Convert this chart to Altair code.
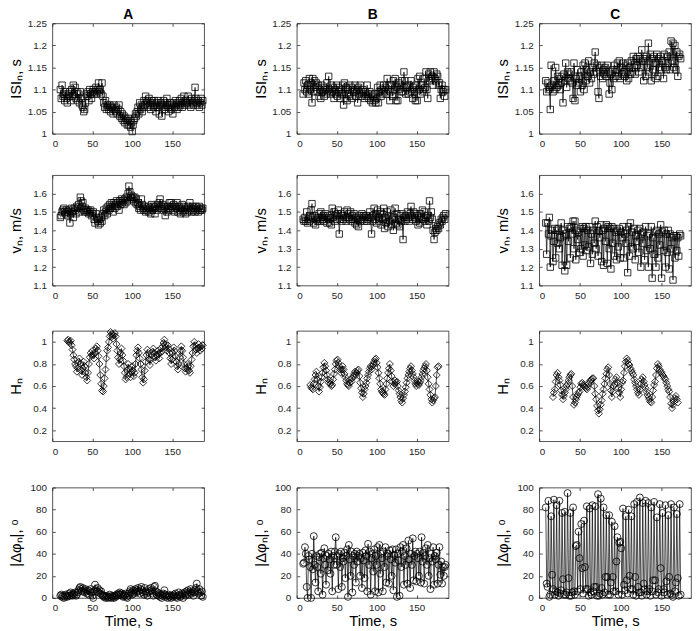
import altair as alt
import pandas as pd
import numpy as np

# ---------------- data ----------------
# Column A
A_t0 = 10.0
A_isi = [1.100, 1.080, 1.110, 1.085, 1.090, 1.075, 1.095, 1.080, 1.070, 1.090,
         1.085, 1.095, 1.075, 1.100, 1.085, 1.110, 1.090, 1.105, 1.080, 1.095,
         1.075, 1.090, 1.070, 1.095, 1.080, 1.065, 1.060, 1.050, 1.055, 1.070,
         1.090, 1.085, 1.095, 1.075, 1.100, 1.090, 1.080, 1.095, 1.100, 1.090,
         1.095, 1.105, 1.090, 1.100, 1.115, 1.095, 1.100, 1.090, 1.115, 1.085,
         1.070, 1.060, 1.075, 1.055, 1.065, 1.060, 1.055, 1.065, 1.050, 1.060,
         1.060, 1.045, 1.065, 1.055, 1.050, 1.060, 1.045, 1.055, 1.065, 1.040,
         1.050, 1.035, 1.045, 1.030, 1.040, 1.025, 1.035, 1.030, 1.020, 1.035,
         1.020, 1.030, 1.015, 1.025, 1.005, 1.020, 1.030, 1.035, 1.045, 1.040,
         1.050, 1.060, 1.045, 1.070, 1.055, 1.065, 1.050, 1.060, 1.075, 1.065,
         1.085, 1.070, 1.075, 1.060, 1.080, 1.065, 1.055, 1.075, 1.070, 1.060,
         1.075, 1.065, 1.050, 1.070, 1.060, 1.075, 1.045, 1.065, 1.070, 1.040,
         1.065, 1.075, 1.055, 1.070, 1.060, 1.080, 1.065, 1.050, 1.060, 1.070,
         1.055, 1.065, 1.045, 1.070, 1.060, 1.075, 1.065, 1.055, 1.070, 1.060,
         1.075, 1.065, 1.080, 1.060, 1.070, 1.085, 1.065, 1.075, 1.070, 1.070,
         1.085, 1.065, 1.075, 1.060, 1.080, 1.070, 1.065, 1.075, 1.105, 1.080,
         1.070, 1.065, 1.075, 1.060, 1.070, 1.080, 1.065, 1.075]
A_v = [1.47, 1.48, 1.50, 1.51, 1.52, 1.50, 1.49, 1.51, 1.50, 1.48,
       1.51, 1.44, 1.49, 1.52, 1.50, 1.47, 1.52, 1.51, 1.49, 1.53,
       1.52, 1.54, 1.50, 1.58, 1.56, 1.53, 1.55, 1.51, 1.50, 1.52,
       1.51, 1.50, 1.51, 1.49, 1.50, 1.51, 1.48, 1.49, 1.50, 1.46,
       1.44, 1.49, 1.47, 1.45, 1.43, 1.46, 1.44, 1.47, 1.45, 1.49,
       1.51, 1.48, 1.50, 1.52, 1.49, 1.53, 1.51, 1.54, 1.52, 1.55,
       1.53, 1.50, 1.55, 1.52, 1.54, 1.56, 1.53, 1.55, 1.51, 1.56,
       1.54, 1.57, 1.55, 1.56, 1.54, 1.57, 1.55, 1.58, 1.56, 1.60,
       1.64, 1.61, 1.58, 1.59, 1.57, 1.58, 1.56, 1.58, 1.55, 1.57,
       1.54, 1.55, 1.52, 1.53, 1.51, 1.57, 1.54, 1.52, 1.51, 1.53,
       1.50, 1.52, 1.51, 1.53, 1.50, 1.52, 1.49, 1.54, 1.51, 1.53,
       1.52, 1.49, 1.53, 1.51, 1.54, 1.52, 1.55, 1.57, 1.53, 1.52,
       1.54, 1.51, 1.53, 1.48, 1.52, 1.50, 1.53, 1.51, 1.55, 1.52,
       1.55, 1.53, 1.51, 1.54, 1.50, 1.53, 1.52, 1.55, 1.50, 1.53,
       1.51, 1.49, 1.52, 1.54, 1.50, 1.53, 1.51, 1.49, 1.52, 1.50,
       1.53, 1.51, 1.55, 1.52, 1.50, 1.53, 1.51, 1.52, 1.50, 1.53,
       1.51, 1.52, 1.50, 1.53, 1.51, 1.52, 1.51, 1.52]
A_h_start = 8
A_h = [1.01, 1.02, 1.00, 0.99, 1.01, 0.97, 0.93, 0.88, 0.84, 0.80,
       0.78, 0.73, 0.76, 0.82, 0.85, 0.80, 0.74, 0.70, 0.76, 0.82,
       0.78, 0.72, 0.68, 0.65, 0.72, 0.80, 0.86, 0.90, 0.88, 0.92,
       0.88, 0.85, 0.90, 0.94, 0.96, 0.92, 0.87, 0.80, 0.70, 0.62,
       0.56, 0.55, 0.60, 0.67, 0.75, 0.85, 0.92, 0.95, 1.00, 1.05,
       1.09, 1.07, 1.05, 1.03, 1.06, 1.08, 1.05, 0.98, 0.92, 0.86,
       0.80, 0.84, 0.90, 0.94, 0.88, 0.83, 0.78, 0.72, 0.66, 0.68,
       0.74, 0.80, 0.76, 0.71, 0.68, 0.73, 0.78, 0.74, 0.69, 0.72,
       0.80, 0.88, 0.92, 0.95, 0.90, 0.85, 0.80, 0.75, 0.68, 0.63,
       0.66, 0.74, 0.82, 0.88, 0.93, 0.90, 0.84, 0.79, 0.84, 0.88,
       0.91, 0.94, 0.90, 0.86, 0.83, 0.88, 0.92, 0.89, 0.85, 0.90,
       0.94, 0.91, 0.96, 0.99, 1.02, 0.98, 0.95, 0.92, 0.97, 0.94,
       0.90, 0.85, 0.80, 0.84, 0.90, 0.95, 0.92, 0.87, 0.82, 0.78,
       0.75, 0.80, 0.86, 0.92, 0.96, 0.92, 0.86, 0.80, 0.76, 0.73,
       0.76, 0.80, 0.78, 0.74, 0.72, 0.78, 0.84, 0.90, 0.96, 1.00,
       0.97, 0.93, 0.90, 0.94, 0.98, 0.95, 0.92, 0.96, 0.94, 0.97]
A_phi = [2, 3, 1, 2, 0, 1, 3, 2, 1, 2,
         4, 2, 5, 3, 2, 4, 3, 5, 2, 3,
         5, 7, 9, 10, 8, 6, 9, 7, 5, 8,
         6, 4, 7, 3, 6, 8, 5, 2, 0, 6,
         12, 8, 6, 9, 5, 7, 4, 6, 3, 2,
         1, 2, 0, 1, 2, 0, 1, 3, 1, 0,
         2, 1, 0, 2, 1, 3, 2, 4, 3, 5,
         3, 4, 2, 1, 3, 2, 4, 1, 0, 2,
         4, 6, 8, 5, 3, 7, 4, 6, 8, 5,
         7, 9, 6, 4, 8, 10, 7, 5, 3, 9,
         6, 4, 2, 5, 8, 6, 9, 7, 4, 2,
         10, 11, 6, 3, 5, 2, 4, 1, 3, 0,
         2, 4, 7, 3, 1, 2, 0, 3, 1, 2,
         0, 2, 1, 3, 2, 4, 1, 0, 2, 5,
         3, 1, 2, 4, 0, 3, 5, 2, 6, 4,
         7, 3, 5, 8, 4, 6, 2, 5, 7, 9,
         13, 6, 4, 8, 5, 2, 6, 1]

# Column B
B_t0 = 8.0
B_isi = [1.090, 1.115, 1.100, 1.120, 1.095, 1.110, 1.090, 1.125, 1.100, 1.115,
         1.070, 1.125, 1.095, 1.120, 1.105, 1.115, 1.095, 1.110, 1.085, 1.100,
         1.080, 1.110, 1.095, 1.105, 1.085, 1.100, 1.090, 1.115, 1.095, 1.130,
         1.100, 1.090, 1.110, 1.095, 1.105, 1.080, 1.100, 1.090, 1.110, 1.085,
         1.105, 1.095, 1.080, 1.100, 1.090, 1.110, 1.065, 1.115, 1.080, 1.105,
         1.075, 1.100, 1.090, 1.110, 1.085, 1.105, 1.080, 1.100, 1.095, 1.110,
         1.085, 1.100, 1.070, 1.105, 1.090, 1.110, 1.095, 1.085, 1.100, 1.090,
         1.080, 1.095, 1.085, 1.110, 1.090, 1.080, 1.095, 1.075, 1.090, 1.070,
         1.085, 1.075, 1.090, 1.070, 1.080, 1.105, 1.070, 1.095, 1.110, 1.085,
         1.100, 1.090, 1.110, 1.095, 1.105, 1.090, 1.125, 1.100, 1.110, 1.075,
         1.095, 1.110, 1.085, 1.120, 1.100, 1.125, 1.075, 1.105, 1.075, 1.115,
         1.100, 1.110, 1.095, 1.120, 1.095, 1.140, 1.120, 1.090, 1.105, 1.110,
         1.090, 1.110, 1.095, 1.120, 1.100, 1.080, 1.105, 1.095, 1.075, 1.110,
         1.075, 1.125, 1.100, 1.130, 1.090, 1.110, 1.095, 1.100, 1.125, 1.105,
         1.140, 1.100, 1.080, 1.135, 1.120, 1.140, 1.125, 1.130, 1.110, 1.140,
         1.125, 1.120, 1.135, 1.130, 1.110, 1.115, 1.080, 1.100, 1.110, 1.095,
         1.100, 1.085, 1.100]
B_v = [1.46, 1.45, 1.47, 1.45, 1.50, 1.44, 1.46, 1.45, 1.48, 1.51,
       1.545, 1.47, 1.44, 1.48, 1.43, 1.46, 1.45, 1.47, 1.49, 1.45,
       1.50, 1.47, 1.46, 1.48, 1.45, 1.49, 1.47, 1.44, 1.48, 1.46,
       1.44, 1.47, 1.43, 1.52, 1.47, 1.50, 1.45, 1.48, 1.46, 1.49,
       1.51, 1.38, 1.46, 1.49, 1.45, 1.48, 1.46, 1.50, 1.47, 1.45,
       1.51, 1.47, 1.49, 1.46, 1.50, 1.45, 1.48, 1.46, 1.49, 1.44,
       1.47, 1.43, 1.46, 1.42, 1.48, 1.45, 1.47, 1.49, 1.46, 1.48,
       1.45, 1.47, 1.48, 1.45, 1.46, 1.47, 1.50, 1.47, 1.38, 1.45,
       1.48, 1.52, 1.46, 1.49, 1.44, 1.51, 1.47, 1.45, 1.50, 1.43,
       1.49, 1.46, 1.52, 1.41, 1.47, 1.44, 1.50, 1.42, 1.48, 1.45,
       1.51, 1.43, 1.46, 1.40, 1.47, 1.52, 1.44, 1.49, 1.43, 1.46,
       1.42, 1.48, 1.45, 1.49, 1.35, 1.47, 1.45, 1.48, 1.46, 1.50,
       1.47, 1.45, 1.49, 1.53, 1.48, 1.46, 1.50, 1.47, 1.49, 1.45,
       1.48, 1.43, 1.46, 1.44, 1.49, 1.47, 1.51, 1.46, 1.50, 1.45,
       1.47, 1.43, 1.48, 1.45, 1.56, 1.47, 1.50, 1.46, 1.40, 1.35,
       1.39, 1.41, 1.40, 1.42, 1.41, 1.44, 1.43, 1.46, 1.45, 1.47,
       1.48, 1.46, 1.49]
B_h_start = 8
B_h = [0.61, 0.59, 0.58, 0.57, 0.62, 0.66, 0.70, 0.73, 0.66, 0.60,
       0.55, 0.59, 0.64, 0.68, 0.72, 0.77, 0.81, 0.78, 0.74, 0.70,
       0.66, 0.63, 0.65, 0.62, 0.60, 0.61, 0.66, 0.71, 0.75, 0.80,
       0.83, 0.84, 0.81, 0.78, 0.75, 0.72, 0.75, 0.78, 0.75, 0.71,
       0.68, 0.65, 0.62, 0.61, 0.60, 0.63, 0.66, 0.64, 0.67, 0.69,
       0.71, 0.73, 0.70, 0.72, 0.74, 0.75, 0.69, 0.63, 0.58, 0.54,
       0.50, 0.53, 0.57, 0.60, 0.63, 0.67, 0.70, 0.73, 0.76, 0.78,
       0.75, 0.78, 0.80, 0.82, 0.84, 0.85, 0.81, 0.77, 0.72, 0.67,
       0.62, 0.57, 0.55, 0.54, 0.53, 0.52, 0.57, 0.62, 0.67, 0.72,
       0.76, 0.80, 0.74, 0.69, 0.64, 0.60, 0.62, 0.65, 0.63, 0.64,
       0.60, 0.56, 0.53, 0.50, 0.47, 0.45, 0.49, 0.52, 0.55, 0.59,
       0.63, 0.67, 0.70, 0.73, 0.76, 0.78, 0.74, 0.71, 0.68, 0.65,
       0.62, 0.60, 0.62, 0.64, 0.61, 0.63, 0.65, 0.68, 0.71, 0.74,
       0.76, 0.78, 0.80, 0.74, 0.68, 0.62, 0.57, 0.52, 0.48, 0.45,
       0.47, 0.49, 0.50, 0.60, 0.70, 0.77, 0.78]
B_phi = [31, 32, 46, 40, 10, 0, 38, 35, 28, 0,
         40, 26, 56, 30, 14, 38, 28, 6, 37, 40,
         22, 41, 3, 36, 45, 30, 12, 38, 25, 40,
         35, 22, 42, 6, 38, 30, 42, 55, 30, 38,
         8, 40, 28, 42, 10, 36, 33, 41, 18, 38,
         44, 1, 48, 35, 20, 42, 5, 38, 30, 40,
         14, 42, 33, 38, 40, 20, 36, 9, 41, 34,
         18, 43, 38, 6, 49, 30, 42, 3, 36, 40,
         24, 44, 6, 38, 30, 46, 5, 48, 22, 40,
         36, 6, 42, 28, 46, 14, 38, 40, 13, 43,
         35, 20, 44, 7, 39, 32, 44, 1, 40, 34,
         2, 46, 28, 42, 48, 12, 38, 30, 45, 13,
         52, 35, 9, 40, 30, 54, 16, 38, 42, 15,
         40, 36, 20, 42, 14, 55, 33, 41, 13, 38,
         45, 30, 48, 20, 36, 8, 40, 33, 46, 12,
         38, 35, 41, 13, 30, 46, 21, 33, 13, 28,
         20, 28, 30]

# Column C
C_t0 = 8.0
C_isi = [1.120, 1.095, 1.115, 1.100, 1.105, 1.055, 1.155, 1.110, 1.095, 1.120,
         1.100, 1.150, 1.105, 1.130, 1.110, 1.125, 1.100, 1.115, 1.130, 1.070,
         1.135, 1.120, 1.160, 1.105, 1.140, 1.125, 1.135, 1.120, 1.140, 1.115,
         1.080, 1.160, 1.075, 1.125, 1.110, 1.145, 1.115, 1.130, 1.095, 1.140,
         1.110, 1.155, 1.100, 1.160, 1.120, 1.145, 1.130, 1.165, 1.115, 1.140,
         1.125, 1.150, 1.135, 1.160, 1.185, 1.140, 1.155, 1.095, 1.080, 1.150,
         1.130, 1.155, 1.125, 1.145, 1.135, 1.150, 1.130, 1.155, 1.140, 1.090,
         1.115, 1.135, 1.100, 1.145, 1.125, 1.155, 1.130, 1.145, 1.160, 1.130,
         1.165, 1.125, 1.150, 1.135, 1.160, 1.140, 1.130, 1.155, 1.120, 1.160,
         1.125, 1.150, 1.135, 1.165, 1.140, 1.175, 1.150, 1.135, 1.170, 1.155,
         1.175, 1.140, 1.170, 1.150, 1.190, 1.165, 1.120, 1.170, 1.130, 1.175,
         1.150, 1.205, 1.140, 1.180, 1.120, 1.170, 1.145, 1.175, 1.160, 1.125,
         1.180, 1.130, 1.170, 1.150, 1.175, 1.145, 1.165, 1.125, 1.180, 1.150,
         1.145, 1.175, 1.160, 1.185, 1.145, 1.210, 1.165, 1.205, 1.150, 1.200,
         1.145, 1.185, 1.130, 1.175, 1.180, 1.170]
C_v = [1.44, 1.27, 1.44, 1.38, 1.47, 1.20, 1.37, 1.40, 1.23, 1.34,
       1.41, 1.25, 1.40, 1.33, 1.41, 1.30, 1.36, 1.44, 1.21, 1.40,
       1.37, 1.18, 1.38, 1.21, 1.42, 1.34, 1.41, 1.25, 1.42, 1.38,
       1.45, 1.30, 1.45, 1.24, 1.40, 1.35, 1.39, 1.28, 1.41, 1.30,
       1.42, 1.26, 1.41, 1.32, 1.42, 1.29, 1.40, 1.31, 1.42, 1.22,
       1.38, 1.27, 1.40, 1.33, 1.45, 1.30, 1.42, 1.26, 1.40, 1.36,
       1.43, 1.23, 1.40, 1.21, 1.41, 1.34, 1.43, 1.22, 1.42, 1.30,
       1.41, 1.19, 1.42, 1.33, 1.41, 1.26, 1.39, 1.24, 1.40, 1.31,
       1.41, 1.25, 1.39, 1.36, 1.42, 1.25, 1.38, 1.33, 1.40, 1.17,
       1.42, 1.26, 1.44, 1.31, 1.39, 1.30, 1.41, 1.24, 1.37, 1.34,
       1.40, 1.28, 1.41, 1.20, 1.38, 1.33, 1.39, 1.24, 1.42, 1.29,
       1.37, 1.20, 1.38, 1.30, 1.42, 1.14, 1.36, 1.27, 1.39, 1.20,
       1.40, 1.25, 1.38, 1.32, 1.43, 1.14, 1.39, 1.29, 1.40, 1.20,
       1.38, 1.28, 1.40, 1.19, 1.38, 1.30, 1.36, 1.13, 1.37, 1.25,
       1.37, 1.29, 1.36, 1.26, 1.38, 1.37]
C_h_start = 8
C_h = [0.50, 0.54, 0.57, 0.64, 0.70, 0.72, 0.68, 0.65, 0.61, 0.56,
       0.52, 0.48, 0.51, 0.54, 0.57, 0.60, 0.62, 0.65, 0.68, 0.70,
       0.71, 0.60, 0.50, 0.43, 0.45, 0.48, 0.50, 0.52, 0.54, 0.55,
       0.59, 0.62, 0.63, 0.61, 0.60, 0.59, 0.58, 0.57, 0.59, 0.62,
       0.64, 0.65, 0.66, 0.67, 0.67, 0.60, 0.53, 0.48, 0.42, 0.38,
       0.35, 0.39, 0.43, 0.47, 0.53, 0.57, 0.62, 0.67, 0.71, 0.75,
       0.77, 0.70, 0.62, 0.56, 0.50, 0.55, 0.60, 0.62, 0.66, 0.68,
       0.63, 0.58, 0.54, 0.50, 0.57, 0.63, 0.65, 0.72, 0.78, 0.82,
       0.85, 0.83, 0.80, 0.79, 0.76, 0.74, 0.72, 0.70, 0.66, 0.63,
       0.60, 0.57, 0.54, 0.52, 0.57, 0.62, 0.66, 0.68, 0.64, 0.61,
       0.58, 0.55, 0.52, 0.50, 0.48, 0.46, 0.45, 0.50, 0.56, 0.61,
       0.64, 0.70, 0.76, 0.80, 0.78, 0.75, 0.73, 0.72, 0.70, 0.69,
       0.67, 0.66, 0.63, 0.60, 0.57, 0.55, 0.50, 0.44, 0.40, 0.43,
       0.46, 0.49, 0.51, 0.48, 0.45]
C_phi = [82, 13, 10, 88, 1, 3, 74, 21, 8, 89,
         3, 6, 84, 5, 2, 88, 4, 7, 77, 17,
         3, 78, 3, 5, 95, 18, 2, 77, 2, 5,
         82, 6, 3, 47, 48, 6, 60, 36, 8, 67,
         27, 4, 70, 28, 8, 83, 8, 2, 81, 5,
         3, 84, 6, 10, 83, 10, 2, 94, 2, 4,
         90, 9, 3, 82, 5, 19, 75, 19, 3, 75,
         3, 14, 69, 19, 6, 65, 6, 33, 55, 3,
         50, 51, 45, 3, 81, 12, 7, 74, 16, 4,
         80, 20, 8, 74, 8, 3, 85, 19, 2, 87,
         10, 5, 91, 5, 2, 86, 13, 8, 88, 3,
         6, 86, 8, 2, 82, 6, 16, 87, 16, 3,
         73, 5, 8, 85, 27, 2, 77, 8, 5, 84,
         15, 3, 75, 19, 4, 85, 3, 1, 82, 6,
         14, 76, 18, 2, 85, 3]

# axis ticks / labels
x_ticks = [0, 50, 100, 150]
isi_ticks = [1, 1.05, 1.1, 1.15, 1.2, 1.25]
v_ticks = [1.1, 1.2, 1.3, 1.4, 1.5, 1.6]
h_ticks = [0.2, 0.4, 0.6, 0.8, 1]
phi_ticks = [0, 20, 40, 60, 80, 100]
col_titles = ["A", "B", "C"]
y_titles = ["ISI\u2099, s", "v\u2099, m/s", "H\u2099", "|\u0394\u03c6\u2099|, \u1d52"]

# ---------------- chart ----------------
FONT = "Liberation Sans"
AXC = "#262626"
W, H = 154, 112


def times(t0, isi):
    return t0 + np.concatenate([[0.0], np.cumsum(isi[:-1])])


def make_axis(orient, vals, title=None, labels=True):
    kw = dict(orient=orient, values=vals, format="~r", grid=False, domain=False,
              tickSize=3, offset=-3, tickColor=AXC, tickWidth=0.8, labels=labels)
    kw["title"] = title
    if orient == "left":
        kw.update(labelPadding=6, minExtent=28, maxExtent=28, titlePadding=4)
    elif orient == "bottom":
        kw.update(labelPadding=5, titlePadding=1)
    else:
        kw.update(minExtent=0, maxExtent=0)
    return alt.Axis(**kw)


def panel(t, y, shape, size, ydom, yvals, ytitle, xmax, col_title=None, xtitle=None):
    n = min(len(t), len(y))
    df = pd.DataFrame({"t": np.asarray(t[:n], dtype=float), "y": np.asarray(y[:n], dtype=float)})
    xs = alt.Scale(domain=[0, xmax], nice=False, zero=False)
    ys = alt.Scale(domain=ydom, nice=False, zero=False)
    base = alt.Chart(df)
    line = base.mark_line(color="black", strokeWidth=0.7).encode(
        x=alt.X("t:Q", scale=xs, axis=make_axis("bottom", x_ticks, xtitle)),
        y=alt.Y("y:Q", scale=ys, axis=make_axis("left", yvals, ytitle)),
    )
    pts = base.mark_point(shape=shape, size=size, filled=False, color="black",
                          strokeWidth=0.8, opacity=1).encode(
        x=alt.X("t:Q", scale=xs, axis=make_axis("top", x_ticks, None, labels=False)),
        y=alt.Y("y:Q", scale=ys, axis=make_axis("right", yvals, None, labels=False)),
    )
    layers = [line, pts]
    if col_title:
        ttl = alt.Chart(pd.DataFrame({"lab": [col_title]})).mark_text(
            font=FONT, fontSize=14, fontWeight="bold", color="black",
            align="center", baseline="alphabetic").encode(
            text="lab:N", x=alt.value(W / 2), y=alt.value(-4))
        layers.append(ttl)
    ch = alt.layer(*layers).resolve_axis(x="independent", y="independent").properties(width=W, height=H)
    return ch


cols = []
for ci, (t0, isi, v, hst, h, phi, xmax) in enumerate([
        (A_t0, A_isi, A_v, A_h_start, A_h, A_phi, 190),
        (B_t0, B_isi, B_v, B_h_start, B_h, B_phi, 190),
        (C_t0, C_isi, C_v, C_h_start, C_h, C_phi, 186)]):
    t = times(t0, isi)
    cols.append([
        panel(t, isi, "square", 42, [1, 1.25], isi_ticks, y_titles[0], xmax, col_title=col_titles[ci]),
        panel(t, v, "square", 42, [1.1, 1.7], v_ticks, y_titles[1], xmax),
        panel(t[hst:], h, "diamond", 50, [0.1, 1.1], h_ticks, y_titles[2], xmax),
        panel(t, phi, "circle", 50, [0, 100], phi_ticks, y_titles[3], xmax, xtitle="Time, s"),
    ])

panels = [cols[c][r] for r in range(4) for c in range(3)]

chart = alt.concat(*panels, columns=3, spacing={"row": 25, "column": 44}).properties(
    padding={"left": 0, "top": -5, "right": 0, "bottom": 0}
).configure_view(stroke=AXC, strokeWidth=0.8).configure_axis(
    labelFont=FONT, labelFontSize=10, labelColor=AXC,
    titleFont=FONT, titleFontSize=15, titleFontWeight="normal", titleColor="black"
)

chart.save("out.html", embed_options={"renderer": "svg", "actions": False})
